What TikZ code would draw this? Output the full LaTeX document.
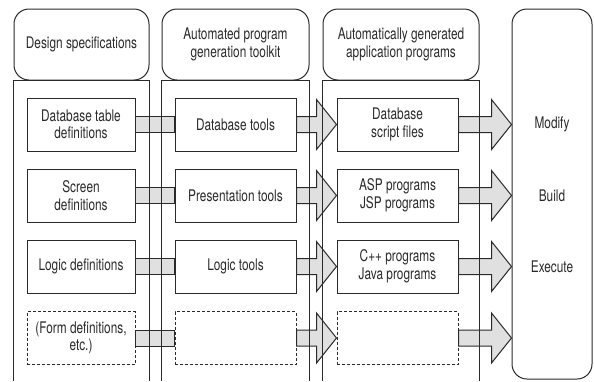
\documentclass[tikz,border=0pt]{standalone}
\usepackage{fontspec}
\setmainfont{TeX Gyre Heros}[FakeStretch=0.74]
\usetikzlibrary{calc}
\definecolor{ink}{HTML}{2A2A2A}
\definecolor{shaft}{HTML}{E0E0E0}
\tikzset{
  every node/.style={font=\fontsize{16}{17.5}\selectfont, text=ink, align=center},
  hdr/.style={draw=ink, line width=1pt, rounded corners=15pt, inner sep=0pt},
  item/.style={draw=ink, line width=1pt, fill=white, minimum height=53pt, inner sep=0pt},
  narrowitem/.style={item, minimum width=108pt},
  wideitem/.style={item, minimum width=121pt},
  blank/.style={dash pattern=on 3pt off 2pt},
  lane/.style={draw=ink, line width=1pt},
  flow/.style={draw=ink, line width=1pt, fill=shaft, line join=miter},
  verb/.style={inner sep=0pt},
}
\begin{document}
\begin{tikzpicture}[x=1pt, y=-1pt]
\useasboundingbox (0,0) rectangle (594,381);

% column headings
\node[hdr, minimum width=135pt, minimum height=71pt] (h1) at (81.5,44.5) {Design specifications};
\node[hdr, minimum width=147pt, minimum height=71pt] (h2) at (235.5,44.5) {Automated program\\generation toolkit};
\node[hdr, minimum width=156pt, minimum height=71pt] (h3) at (401,44.5) {Automatically generated\\application programs};
\node[hdr, minimum width=80pt, minimum height=370pt] (act) at (552,194) {};

% design specifications
\node[narrowitem] (a1) at (81,124.5) {Database table\\definitions};
\node[narrowitem] (a2) at (81,195.5) {Screen\\definitions};
\node[narrowitem] (a3) at (81,266.5) {Logic definitions};
\node[narrowitem, blank] (a4) at (81,338) {(Form definitions,\\etc.)};

% toolkit
\node[wideitem] (b1) at (235.5,124.5) {Database tools};
\node[wideitem] (b2) at (235.5,195.5) {Presentation tools};
\node[wideitem] (b3) at (235.5,266.5) {Logic tools};
\node[wideitem, blank] (b4) at (235.5,338) {};

% generated programs
\node[wideitem] (c1) at (397.5,124.5) {Database\\script files};
\node[wideitem] (c2) at (397.5,195.5) {ASP programs\\JSP programs};
\node[wideitem] (c3) at (397.5,266.5) {C++ programs\\Java programs};
\node[wideitem, blank] (c4) at (397.5,338) {};

% activities
\node[verb] (m) at (act.center |- c1) {Modify};
\node[verb] (bd) at (act.center |- c2) {Build};
\node[verb] (ex) at (act.center |- c3) {Execute};

% flows between the columns
\foreach \r in {1,2,3,4}{
  \draw[flow] ($(a\r.east)+(0,-8)$) rectangle ($(b\r.west)+(0,8)$);
  \draw[flow] ($(b\r.east)+(0,-8)$) -- ($(c\r.west)+(-20,-8)$) -- ($(c\r.west)+(-20,-25)$)
     -- (c\r.west) -- ($(c\r.west)+(-20,25)$) -- ($(c\r.west)+(-20,8)$) -- ($(b\r.east)+(0,8)$) -- cycle;
  \coordinate (t\r) at (c\r -| act.west);
  \draw[flow] ($(c\r.east)+(0,-8)$) -- ($(t\r)+(-20,-8)$) -- ($(t\r)+(-20,-25)$)
     -- (t\r) -- ($(t\r)+(-20,25)$) -- ($(t\r)+(-20,8)$) -- ($(c\r.east)+(0,8)$) -- cycle;
}

% column bodies, open at the bottom
\coordinate (base) at (0,381);
\draw[lane] (h1.south west |- base) -- (h1.south west) -- (h1.south east) -- (h1.south east |- base);
\draw[lane] (h2.south west |- base) -- (h2.south west) -- (h2.south east) -- (h2.south east |- base);
\draw[lane] (h3.south west |- base) -- (h3.south west) -- (h3.south east) -- (h3.south east |- base);
\end{tikzpicture}
\end{document}
